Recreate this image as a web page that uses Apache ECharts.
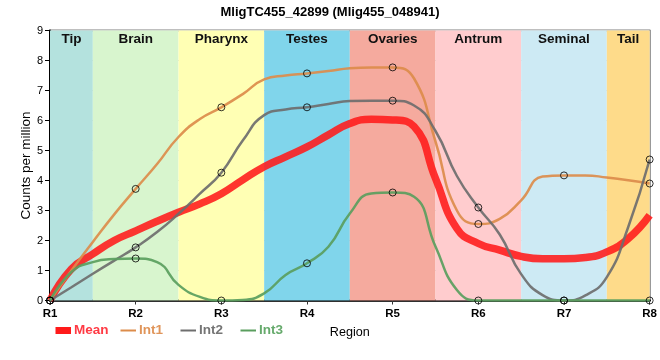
<!DOCTYPE html>
<html>
<head>
<meta charset="utf-8">
<script src="https://cdn.jsdelivr.net/npm/echarts@6/dist/echarts.min.js"></script>
<style>html,body{margin:0;padding:0;background:#fff;}#c{width:660px;height:360px;}</style>
</head>
<body>
<div id="c"></div>
<script>
const titleText = 'MligTC455_42899 (Mlig455_048941)';
const regions = ['R1', 'R2', 'R3', 'R4', 'R5', 'R6', 'R7', 'R8'];
const bandNames = ['Tip', 'Brain', 'Pharynx', 'Testes', 'Ovaries', 'Antrum', 'Seminal', 'Tail'];
const bandColors = ['#b4e2de', '#d8f5ce', '#ffffb4', '#80d5eb', '#f5aa9e', '#ffccce', '#cdeaf4', '#fedb8a'];
const yTicks = [0, 1, 2, 3, 4, 5, 6, 7, 8, 9];

// values at each region (markers)
const int1Region = [0, 3.72, 6.44, 7.57, 7.77, 2.55, 4.17, 3.9];
const int2Region = [0, 1.77, 4.26, 6.44, 6.66, 3.1, 0, 4.7];
const int3Region = [0, 1.4, 0, 1.24, 3.6, 0, 0, 0];

const curveX = [0, 0.25, 0.5, 0.75, 1, 1.25, 1.5, 1.75, 2, 2.25, 2.5, 2.75, 3, 3.25, 3.5, 3.75, 4,
                4.25, 4.5, 4.75, 5, 5.25, 5.5, 5.75, 6, 6.25, 6.5, 6.75, 7];
const meanCurve = [0, 1.05, 1.55, 2.0, 2.32, 2.64, 2.94, 3.22, 3.56, 4.02, 4.46, 4.79, 5.12, 5.52, 5.9, 6.04, 6.02,
                   5.8, 4.07, 2.4, 1.9, 1.68, 1.47, 1.39, 1.39, 1.43, 1.62, 2.06, 2.84];
const int1Curve = [0, 1.0, 1.95, 2.87, 3.72, 4.55, 5.45, 6.05, 6.44, 6.88, 7.37, 7.5, 7.57, 7.65, 7.74, 7.77, 7.77,
                   7.4, 5.3, 3.0, 2.55, 2.72, 3.34, 4.13, 4.17, 4.17, 4.1, 4.01, 3.9];
const int2Curve = [0, 0.44, 0.89, 1.33, 1.77, 2.28, 2.89, 3.56, 4.26, 5.33, 6.18, 6.37, 6.44, 6.55, 6.65, 6.66, 6.66,
                   6.5, 5.65, 4.15, 3.1, 2.2, 0.88, 0.18, 0, 0.17, 0.78, 2.45, 4.7];
const int3Curve = [0, 0.95, 1.28, 1.38, 1.4, 1.28, 0.52, 0.12, 0, 0.02, 0.24, 0.85, 1.24, 1.79, 2.9, 3.57, 3.6,
                   3.46, 1.8, 0.35, 0, 0, 0, 0, 0, 0, 0, 0, 0];

const seriesNames = ['Mean', 'Int1', 'Int2', 'Int3'];
const lineColors = ['#ff1a1a', '#dc8c4b', '#6e6e6e', '#5a9e5e'];
const legendTextColors = ['#ff3a44', '#e0955a', '#757575', '#66aa6c'];
const FONT = '"Liberation Sans", Arial, sans-serif';

const pair = (xs, ys) => xs.map((x, i) => [x, ys[i]]);
const curves = [meanCurve, int1Curve, int2Curve, int3Curve];
const regionVals = [null, int1Region, int2Region, int3Region];

const bandData = bandNames.map((name, i) => [
  { xAxis: Math.max(0, i - 0.5), name: name, itemStyle: { color: bandColors[i] } },
  { xAxis: Math.min(regions.length - 1, i + 0.5) }
]);

const series = [{
  name: 'bands', type: 'line', data: [], z: -1, silent: true,
  markArea: {
    silent: true,
    label: { show: true, position: 'insideTop', distance: 2, color: '#111', fontWeight: 'bold', fontSize: 13.5, fontFamily: FONT },
    data: bandData
  }
}];
curves.forEach((c, k) => {
  series.push({
    name: seriesNames[k], type: 'line', smooth: 0.5, symbol: 'none',
    data: pair(curveX, c), z: 2,
    lineStyle: { color: lineColors[k], width: k === 0 ? 7.5 : 2.5, opacity: k === 0 ? 0.88 : 0.92 },
    itemStyle: { color: lineColors[k] }
  });
});
for (let k = 1; k < 4; k++) {
  series.push({
    name: seriesNames[k] + ' pts', type: 'scatter', symbol: 'circle', symbolSize: 7, clip: false, z: 5,
    data: regionVals[k].map((v, i) => [i, v]),
    itemStyle: { color: 'rgba(0,0,0,0)', borderColor: '#000', borderWidth: 1 }
  });
}

const legendLefts = [55.5, 120.5, 180.5, 240.5];
const legends = seriesNames.map((n, k) => ({
  data: [n], left: legendLefts[k], top: 323, padding: 0,
  itemWidth: 15.5, itemHeight: k === 0 ? 7 : 2, icon: 'rect', selectedMode: false,
  textStyle: { color: legendTextColors[k], fontSize: 13.5, fontWeight: 'bold', fontFamily: FONT, lineHeight: 15, padding: [0, 0, 0, -2] }
}));

const chart = echarts.init(document.getElementById('c'), null, { renderer: 'canvas' });
chart.setOption({
  animation: false,
  title: { text: titleText, left: 'center', top: 1, textStyle: { fontSize: 13, fontWeight: 'bold', color: '#000', fontFamily: FONT } },
  legend: legends,
  grid: { left: 50, right: 10, top: 30.5, bottom: 59.5, show: true, borderColor: '#000', borderWidth: 1.5, backgroundColor: 'transparent' },
  xAxis: {
    type: 'value', min: 0, max: regions.length - 1, interval: 1,
    name: 'Region', nameLocation: 'middle', nameGap: 26,
    nameTextStyle: { fontSize: 12.6, color: '#000', fontFamily: FONT },
    axisLine: { lineStyle: { color: '#000', width: 2.5 } },
    axisTick: { show: true, length: 4, lineStyle: { color: '#333' } },
    axisLabel: { formatter: v => regions[v] || '', fontSize: 11.5, fontWeight: 'bold', color: '#000', margin: 7, fontFamily: FONT },
    splitLine: { show: true, lineStyle: { color: '#cccccc', width: 1 } }
  },
  yAxis: {
    type: 'value', min: yTicks[0], max: yTicks[yTicks.length - 1], interval: 1,
    name: 'Counts per million', nameLocation: 'middle', nameGap: 17, nameMoveOverlap: false,
    nameTextStyle: { fontSize: 13.5, color: '#000', fontFamily: FONT },
    axisLine: { show: true, lineStyle: { color: '#000', width: 2 } },
    axisTick: { show: true, length: 5, lineStyle: { color: '#000' } },
    axisLabel: { fontSize: 11, color: '#000', margin: 7, fontFamily: FONT },
    splitLine: { show: true, lineStyle: { color: '#cccccc', width: 1 } }
  },
  series: series
});
</script>
</body>
</html>
